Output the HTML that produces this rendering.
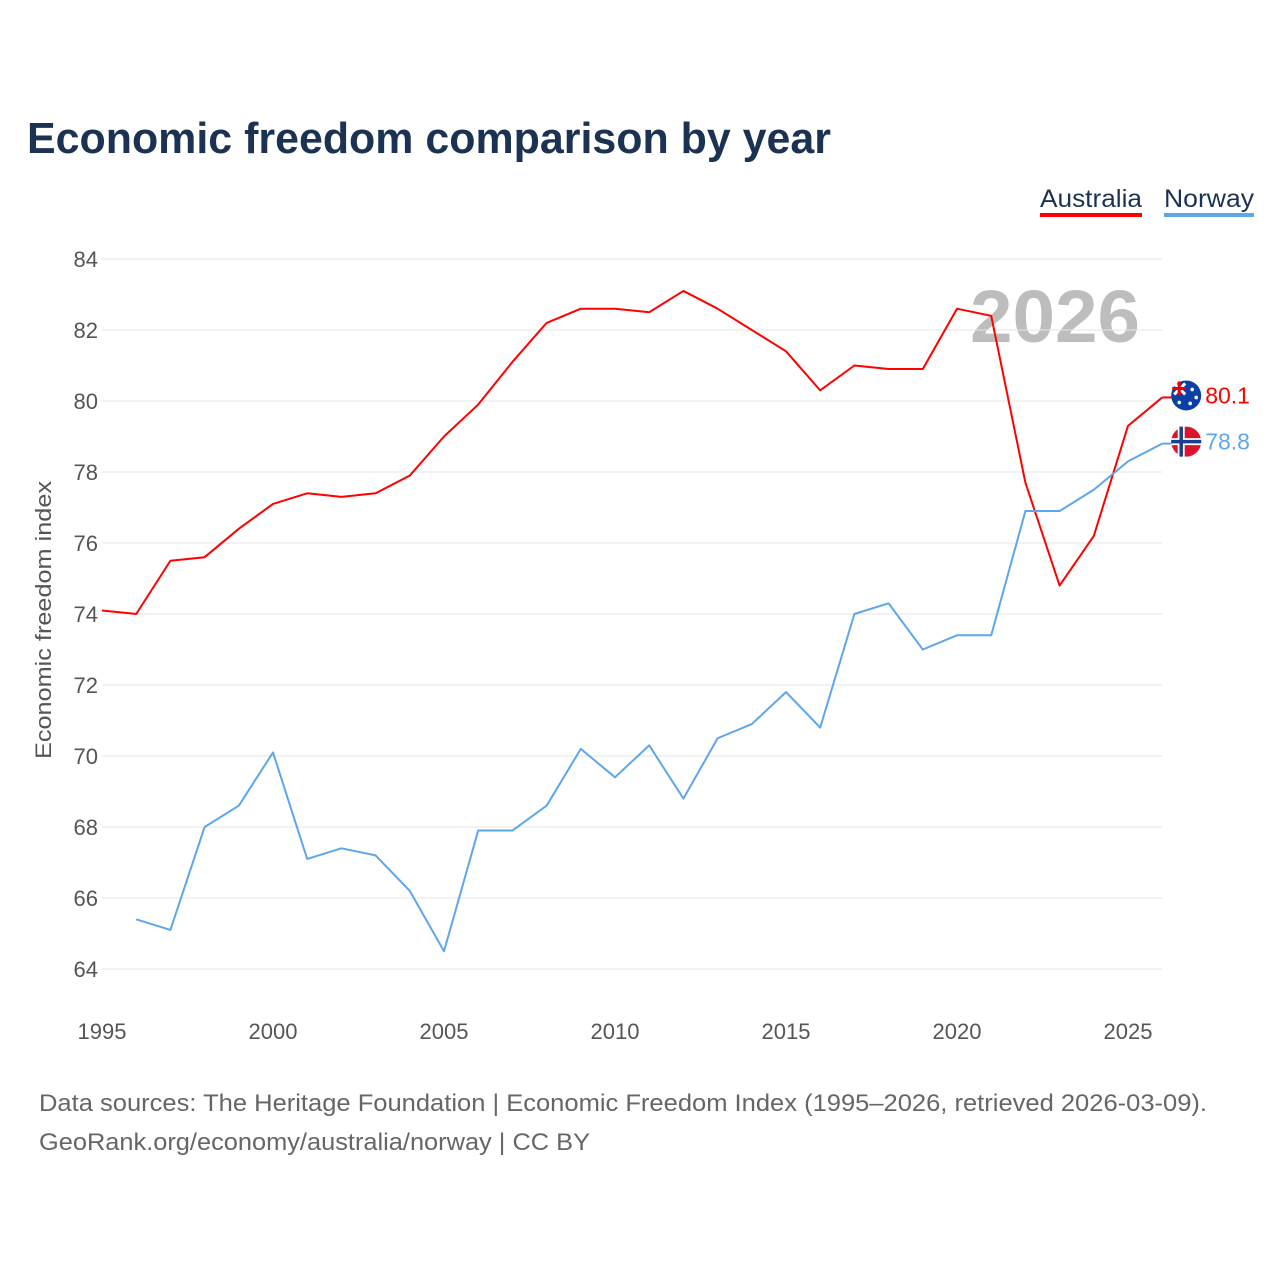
<!DOCTYPE html>
<html><head><meta charset="utf-8"><style>
body{margin:0;background:#fff;width:1280px;height:1280px;overflow:hidden;font-family:"Liberation Sans",sans-serif}
</style></head><body>
<svg id="chart" width="1280" height="1280" xmlns="http://www.w3.org/2000/svg" font-family="Liberation Sans, sans-serif">
<text x="27" y="153" font-size="44" font-weight="bold" fill="#1c3253" textLength="804" lengthAdjust="spacingAndGlyphs">Economic freedom comparison by year</text>
<g><text x="1040" y="207" font-size="25" fill="#1c3253" textLength="102" lengthAdjust="spacingAndGlyphs">Australia</text><rect x="1040" y="213" width="102" height="4" fill="#ff0000"/></g>
<g><text x="1164" y="207" font-size="25" fill="#1c3253" textLength="90" lengthAdjust="spacingAndGlyphs">Norway</text><rect x="1164" y="213" width="90" height="4" fill="#5ea6ec"/></g>
<text x="1140" y="342" font-size="74" font-weight="bold" fill="#bdbdbd" text-anchor="end" textLength="170" lengthAdjust="spacingAndGlyphs">2026</text>
<text transform="translate(51,620) rotate(-90)" font-size="22" fill="#555" text-anchor="middle" textLength="278" lengthAdjust="spacingAndGlyphs">Economic freedom index</text>
<g id="grid"></g><g id="series"></g>
<text x="39" y="1111" font-size="24" fill="#666" textLength="1168" lengthAdjust="spacingAndGlyphs">Data sources: The Heritage Foundation | Economic Freedom Index (1995–2026, retrieved 2026-03-09).</text>
<text x="39" y="1150" font-size="24" fill="#666" textLength="551" lengthAdjust="spacingAndGlyphs">GeoRank.org/economy/australia/norway | CC BY</text>
</svg>
<script>
const years=[1995,1996,1997,1998,1999,2000,2001,2002,2003,2004,2005,2006,2007,2008,2009,2010,2011,2012,2013,2014,2015,2016,2017,2018,2019,2020,2021,2022,2023,2024,2025,2026];
const australia=[74.1,74.0,75.5,75.6,76.4,77.1,77.4,77.3,77.4,77.9,79.0,79.9,81.1,82.2,82.6,82.6,82.5,83.1,82.6,82.0,81.4,80.3,81.0,80.9,80.9,82.6,82.4,77.7,74.8,76.2,79.3,80.1];
const norway=[null,65.4,65.1,68.0,68.6,70.1,67.1,67.4,67.2,66.2,64.5,67.9,67.9,68.6,70.2,69.4,70.3,68.8,70.5,70.9,71.8,70.8,74.0,74.3,73.0,73.4,73.4,76.9,76.9,77.5,78.3,78.8];
const yTicks=[64,66,68,70,72,74,76,78,80,82,84];
const xTicks=[1995,2000,2005,2010,2015,2020,2025];
const NS="http://www.w3.org/2000/svg";
const X=y=>102+(y-1995)*34.2;
const Y=v=>969-(v-64)*35.5;
const grid=document.getElementById('grid'),ser=document.getElementById('series');
function mk(tag,attrs,parent){const e=document.createElementNS(NS,tag);for(const k in attrs)e.setAttribute(k,attrs[k]);parent.appendChild(e);return e;}
yTicks.forEach(t=>{
 const l=mk('line',{x1:102,x2:1162,y1:Y(t),y2:Y(t),stroke:'#e6e6e6','stroke-width':1},grid);
 
 
 const tx=mk('text',{x:98,y:Y(t)+8,'font-size':22,fill:'#555','text-anchor':'end'},grid);tx.textContent=t;
 
 
});
xTicks.forEach(t=>{
 const tx=mk('text',{x:X(t),y:1039,'font-size':22,fill:'#555','text-anchor':'middle'},grid);tx.textContent=t;
 
 
});
function line(vals,color,name){
 let d='';vals.forEach((v,i)=>{if(v==null)return;d+=(d?'L':'M')+X(years[i])+','+Y(v);});
 const p=mk('path',{d:d,fill:'none',stroke:color,'stroke-width':2,'stroke-linejoin':'round'},ser);
 
 
 const last=vals[vals.length-1];
 const g=mk('g',{},ser);
 
 
 mk('line',{x1:X(2026),x2:X(2026)+10,y1:Y(last),y2:Y(last),stroke:color,'stroke-width':2},g);
 const cx=X(2026)+24,cy=Y(last)-2;
 if(name==='australia'){
  mk('circle',{cx:cx,cy:cy,r:15,fill:'#0b3fa8'},g);
  mk('path',{d:`M${cx-12},${cy-12}L${cx-1},${cy-1}M${cx-1},${cy-12}L${cx-12},${cy-1}`,stroke:'#fff','stroke-width':3},g);
  mk('path',{d:`M${cx-7},${cy-14}V${cy}M${cx-14},${cy-7}H${cx}`,stroke:'#e00','stroke-width':3},g);
  [[cx+6,cy-6],[cx+10,cy+2],[cx+4,cy+8],[cx-7,cy+7]].forEach(s=>mk('circle',{cx:s[0],cy:s[1],r:1.8,fill:'#fff'},g));
 }else{
  mk('circle',{cx:cx,cy:cy,r:15,fill:'#d9142b'},g);
  mk('path',{d:`M${cx-5},${cy-15}V${cy+15}M${cx-15},${cy}H${cx+15}`,stroke:'#fff','stroke-width':7},g);
  mk('path',{d:`M${cx-5},${cy-15}V${cy+15}M${cx-15},${cy}H${cx+15}`,stroke:'#1b3f8f','stroke-width':3.5},g);
 }
 const t=mk('text',{x:cx+19,y:cy+8,'font-size':23,fill:color},g);t.textContent=last.toFixed(1);
}
line(australia,'#ff0000','australia');
line(norway,'#5ea6ec','norway');
</script>
</body></html>
